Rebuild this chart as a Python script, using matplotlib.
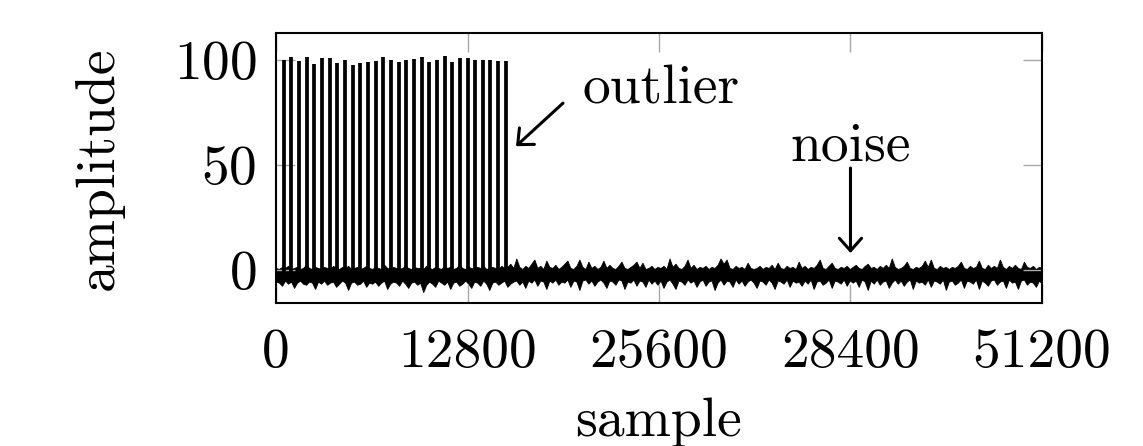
import numpy as np
import matplotlib
matplotlib.use('Agg')
import matplotlib.pyplot as plt

plt.rcParams['font.family'] = 'cmr10'
plt.rcParams['mathtext.fontset'] = 'cm'
plt.rcParams['axes.formatter.use_mathtext'] = True

# Picos (outliers) cada 512 muestras, alturas
spike_pos = [512 * k for k in range(1, 31)]
spike_height = [100, 101.5, 99.5, 101.5, 98.3, 101.1, 101.1, 98.8, 100, 97.7,
                98.8, 98.9, 99.5, 101.5, 100.2, 99.1, 100, 100.5, 101.5, 99.1,
                100, 101.9, 99.1, 101.2, 101.1, 100, 100, 100, 99.7, 99.7]

# Envolvente del ruido (borde superior e inferior, ~200 muestras por punto)
noise_upper = [
    1.0, 0.5, 1.5, 1.0, 2.0, 0.5, 1.0, 1.5, 0.5, 1.0, 2.5, 1.0, 0.5, 1.5, 1.0, 0.5,
    1.5, 1.0, 0.5, 2.0, 1.0, 0.5, 1.5, 1.0, 2.0, 0.5, 1.0, 1.5, 0.5, 1.0, 2.0, 1.0,
    0.5, 1.5, 1.0, 0.5, 2.5, 1.0, 0.5, 1.5, 1.0, 0.5, 1.0, 2.0, 1.0, 0.5, 1.5, 1.0,
    1.0, 0.5, 2.0, 1.0, 0.5, 1.5, 1.0, 0.5, 2.0, 1.0, 1.5, 0.5, 1.0, 2.5, 1.0, 0.5,
    1.5, 1.0, 0.5, 1.5, 1.0, 2.0, 0.5, 1.0, 1.5, 1.0, 0.5, 2.0, 1.0, 1.5, 3.0, 1.0,
    5.5, 1.5, 0.5, 2.0, 1.0, 3.0, 5.0, 1.0, 2.0, 0.5, 4.5, 1.5, 1.0, 2.5, 0.5, 1.5,
    3.0, 4.5, 1.0, 0.5, 2.0, 5.0, 1.5, 0.5, 4.0, 1.0, 2.0, 0.5, 1.5, 4.5, 1.0, 2.5,
    1.0, 0.5, 2.0, 4.0, 1.0, 0.5, 1.5, 2.5, 4.0, 1.0, 3.5, 0.5, 1.0, 2.0, 0.5, 1.5,
    1.0, 2.0, 0.5, 5.5, 1.5, 3.0, 1.0, 0.5, 2.0, 5.0, 1.0, 2.5, 0.5, 1.5, 1.0, 2.0,
    0.5, 1.5, 1.0, 2.5, 5.5, 3.0, 5.0, 1.0, 0.5, 2.0, 1.0, 1.5, 0.5, 3.5, 1.0, 0.5,
    1.0, 2.0, 0.5, 1.5, 1.0, 2.5, 0.5, 3.5, 1.0, 0.5, 2.0, 1.0, 1.5, 0.5, 4.0, 1.0,
    2.0, 0.5, 1.5, 1.0, 2.5, 5.0, 1.0, 0.5, 2.0, 3.5, 1.0, 0.5, 1.5, 1.0, 2.0, 0.5,
    1.5, 2.5, 1.0, 0.5, 2.0, 3.0, 1.0, 1.5, 0.5, 2.0, 1.0, 2.5, 1.0, 5.5, 1.5, 0.5,
    1.0, 2.0, 4.0, 1.0, 0.5, 1.5, 1.0, 2.0, 4.5, 1.5, 5.0, 1.0, 0.5, 2.0, 1.0, 1.5,
    0.5, 1.5, 1.0, 2.0, 4.0, 1.0, 0.5, 2.0, 1.0, 1.5, 4.5, 1.0, 0.5, 2.5, 1.0, 2.0,
    1.0, 5.0, 1.5, 0.5, 2.0, 1.0, 2.5, 1.0, 0.5, 4.0, 1.5, 1.0, 2.0, 0.5, 1.5, 1.0]
noise_lower = [
    -5.5, -6.0, -7.5, -5.0, -6.5, -5.5, -8.5, -6.0, -5.0, -6.5, -7.0, -5.5, -6.0, -9.0, -5.5, -6.5,
    -5.0, -7.0, -6.0, -5.5, -8.0, -6.5, -5.0, -6.0, -9.5, -6.0, -5.5, -7.0, -6.5, -5.0, -8.0, -6.0,
    -6.5, -5.5, -7.5, -6.0, -5.0, -9.0, -6.5, -5.5, -6.0, -7.5, -5.0, -6.5, -8.5, -6.0, -5.5, -7.0,
    -6.0, -10.5, -7.0, -5.5, -6.5, -8.0, -5.0, -6.0, -7.0, -5.5, -9.0, -6.0, -5.5, -7.5, -6.5, -5.0,
    -6.5, -8.5, -5.5, -6.0, -7.5, -5.0, -6.5, -9.5, -6.0, -5.5, -7.0, -6.0, -5.0, -8.0, -6.5, -5.5,
    -5.0, -7.0, -5.5, -8.5, -5.0, -6.0, -4.5, -7.5, -5.0, -5.5, -9.0, -5.0, -6.0, -4.5, -7.0, -5.5,
    -6.0, -4.5, -8.0, -5.0, -5.5, -9.5, -5.0, -4.5, -6.5, -5.0, -7.5, -5.5, -4.5, -6.0, -8.5, -5.0,
    -5.5, -7.0, -4.5, -5.0, -9.0, -5.5, -6.0, -4.5, -7.5, -5.0, -5.5, -8.0, -4.5, -6.5, -5.0, -7.0,
    -5.0, -8.5, -5.5, -4.5, -6.5, -9.0, -5.0, -5.5, -7.0, -4.5, -6.0, -5.0, -8.0, -5.5, -4.5, -7.5,
    -5.5, -5.0, -9.5, -6.0, -4.5, -7.0, -5.0, -5.5, -8.0, -4.5, -6.5, -5.0, -7.5, -5.5, -4.5, -6.0,
    -8.5, -5.0, -5.5, -7.0, -4.5, -6.0, -9.0, -5.0, -5.5, -6.5, -4.5, -8.0, -5.0, -6.0, -5.5, -7.5,
    -5.0, -6.5, -4.5, -9.0, -5.5, -5.0, -7.0, -6.0, -4.5, -8.5, -5.0, -5.5, -6.5, -4.5, -7.5, -5.0,
    -6.0, -5.0, -8.0, -4.5, -5.5, -9.5, -5.0, -6.5, -4.5, -7.0, -5.5, -5.0, -8.5, -6.0, -4.5, -6.5,
    -5.0, -7.5, -5.5, -4.5, -9.0, -5.0, -6.0, -5.5, -7.0, -4.5, -8.0, -5.0, -5.5, -6.5, -4.5, -9.5,
    -5.5, -5.0, -7.0, -6.0, -4.5, -8.5, -5.0, -5.5, -6.5, -4.5, -9.0, -5.0, -6.0, -7.5, -5.0, -4.5,
    -7.0, -5.5, -5.0, -8.5, -4.5, -6.0, -5.5, -9.0, -5.0, -4.5, -7.0, -5.5, -6.0, -8.0, -5.0, -6.5]

xticks = [0, 12800, 25600, 38400, 51200]
xticklabels = ['0', '12800', '25600', '28400', '51200']
yticks = [0, 50, 100]

noise_x = np.linspace(0, 51200, len(noise_upper))

fig = plt.figure(figsize=(11.43, 4.46), dpi=100)
ax = fig.add_axes([0.2415, 0.3206, 0.6701, 0.6054])

ax.fill_between(noise_x, noise_lower, noise_upper, color='black', lw=0.6)
ax.vlines(spike_pos, -5, spike_height, color='black', lw=2.7)

ax.set_xlim(0, 51200)
ax.set_ylim(-15.7, 112.9)
ax.set_xticks(xticks)
ax.set_xticklabels(xticklabels)
ax.set_yticks(yticks)
ax.tick_params(direction='in', length=14, width=1.0, color='#a8a8a8',
               top=True, right=True, labelsize=40)
ax.tick_params(axis='x', pad=18)
ax.tick_params(axis='y', pad=14)
for s in ax.spines.values():
    s.set_linewidth(1.5)

ax.set_xlabel('sample', fontsize=40, labelpad=14)
ax.set_ylabel('amplitude', fontsize=40, labelpad=36)

arrow = dict(arrowstyle='->,head_length=0.45,head_width=0.4', lw=2.2,
             color='black', mutation_scale=20, shrinkA=0, shrinkB=0)
ax.annotate('', xy=(16042, 59), xytext=(19183, 79.5), arrowprops=arrow)
ax.text(20453, 79.5, 'outlier', fontsize=40, va='baseline', ha='left')
ax.annotate('', xy=(38400, 8.1), xytext=(38400, 48.6), arrowprops=arrow)
ax.text(38400, 52.4, 'noise', fontsize=40, va='baseline', ha='center')

fig.savefig('out.png', dpi=100)
